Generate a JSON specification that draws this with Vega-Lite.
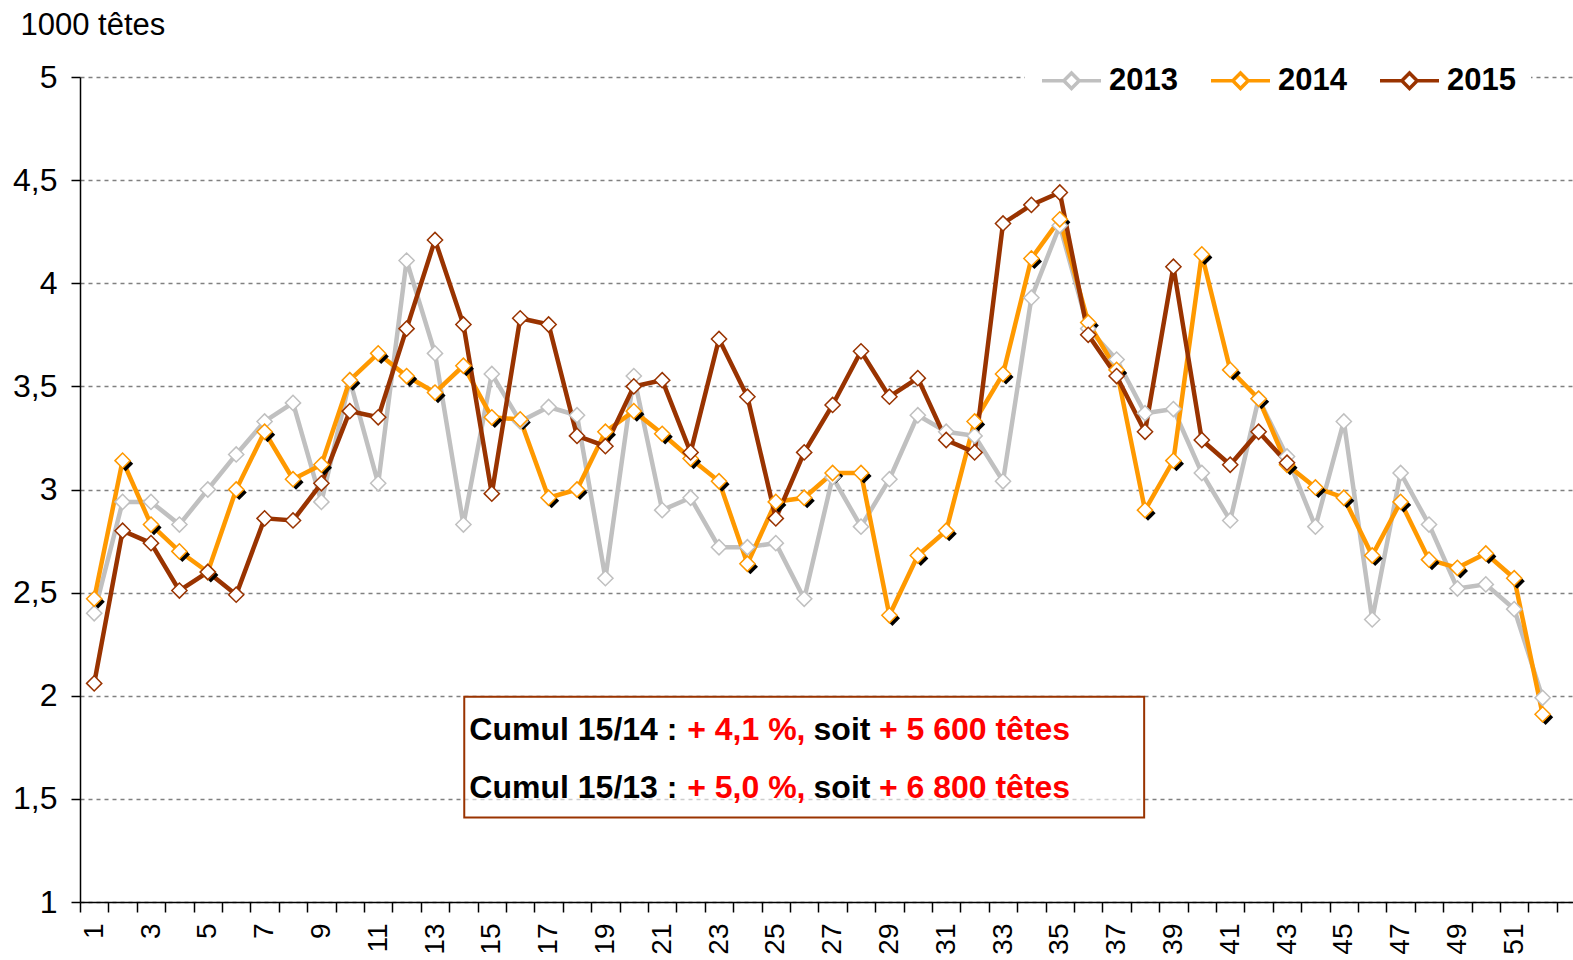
{
"$schema": "https://vega.github.io/schema/vega-lite/v6.json",
"autosize": "none",
"width": 1493,
"height": 825,
"padding": {"left": 80, "top": 77, "right": 0, "bottom": 58},
"background": "white",
"config": {"font": "Liberation Sans", "view": {"stroke": null}},
"datasets": {
"series": [
{"week":1,"year":"2013","value":2.40},{"week":2,"year":"2013","value":2.94},{"week":3,"year":"2013","value":2.94},{"week":4,"year":"2013","value":2.83},{"week":5,"year":"2013","value":3.00},{"week":6,"year":"2013","value":3.17},{"week":7,"year":"2013","value":3.33},{"week":8,"year":"2013","value":3.42},{"week":9,"year":"2013","value":2.94},{"week":10,"year":"2013","value":3.53},
{"week":11,"year":"2013","value":3.03},{"week":12,"year":"2013","value":4.11},{"week":13,"year":"2013","value":3.66},{"week":14,"year":"2013","value":2.83},{"week":15,"year":"2013","value":3.56},{"week":16,"year":"2013","value":3.33},{"week":17,"year":"2013","value":3.40},{"week":18,"year":"2013","value":3.36},{"week":19,"year":"2013","value":2.57},{"week":20,"year":"2013","value":3.55},
{"week":21,"year":"2013","value":2.90},{"week":22,"year":"2013","value":2.96},{"week":23,"year":"2013","value":2.72},{"week":24,"year":"2013","value":2.72},{"week":25,"year":"2013","value":2.74},{"week":26,"year":"2013","value":2.47},{"week":27,"year":"2013","value":3.06},{"week":28,"year":"2013","value":2.82},{"week":29,"year":"2013","value":3.05},{"week":30,"year":"2013","value":3.36},
{"week":31,"year":"2013","value":3.28},{"week":32,"year":"2013","value":3.26},{"week":33,"year":"2013","value":3.04},{"week":34,"year":"2013","value":3.93},{"week":35,"year":"2013","value":4.28},{"week":36,"year":"2013","value":3.78},{"week":37,"year":"2013","value":3.63},{"week":38,"year":"2013","value":3.37},{"week":39,"year":"2013","value":3.39},{"week":40,"year":"2013","value":3.08},
{"week":41,"year":"2013","value":2.85},{"week":42,"year":"2013","value":3.44},{"week":43,"year":"2013","value":3.16},{"week":44,"year":"2013","value":2.82},{"week":45,"year":"2013","value":3.33},{"week":46,"year":"2013","value":2.37},{"week":47,"year":"2013","value":3.08},{"week":48,"year":"2013","value":2.83},{"week":49,"year":"2013","value":2.52},{"week":50,"year":"2013","value":2.54},
{"week":51,"year":"2013","value":2.42},{"week":52,"year":"2013","value":1.99},
{"week":1,"year":"2014","value":2.47},{"week":2,"year":"2014","value":3.14},{"week":3,"year":"2014","value":2.83},{"week":4,"year":"2014","value":2.70},{"week":5,"year":"2014","value":2.60},{"week":6,"year":"2014","value":3.00},{"week":7,"year":"2014","value":3.28},{"week":8,"year":"2014","value":3.05},{"week":9,"year":"2014","value":3.12},{"week":10,"year":"2014","value":3.53},
{"week":11,"year":"2014","value":3.66},{"week":12,"year":"2014","value":3.55},{"week":13,"year":"2014","value":3.47},{"week":14,"year":"2014","value":3.60},{"week":15,"year":"2014","value":3.35},{"week":16,"year":"2014","value":3.34},{"week":17,"year":"2014","value":2.96},{"week":18,"year":"2014","value":3.00},{"week":19,"year":"2014","value":3.28},{"week":20,"year":"2014","value":3.38},
{"week":21,"year":"2014","value":3.27},{"week":22,"year":"2014","value":3.15},{"week":23,"year":"2014","value":3.04},{"week":24,"year":"2014","value":2.64},{"week":25,"year":"2014","value":2.94},{"week":26,"year":"2014","value":2.96},{"week":27,"year":"2014","value":3.08},{"week":28,"year":"2014","value":3.08},{"week":29,"year":"2014","value":2.39},{"week":30,"year":"2014","value":2.68},
{"week":31,"year":"2014","value":2.80},{"week":32,"year":"2014","value":3.33},{"week":33,"year":"2014","value":3.56},{"week":34,"year":"2014","value":4.12},{"week":35,"year":"2014","value":4.31},{"week":36,"year":"2014","value":3.81},{"week":37,"year":"2014","value":3.58},{"week":38,"year":"2014","value":2.90},{"week":39,"year":"2014","value":3.14},{"week":40,"year":"2014","value":4.14},
{"week":41,"year":"2014","value":3.58},{"week":42,"year":"2014","value":3.44},{"week":43,"year":"2014","value":3.12},{"week":44,"year":"2014","value":3.01},{"week":45,"year":"2014","value":2.96},{"week":46,"year":"2014","value":2.68},{"week":47,"year":"2014","value":2.94},{"week":48,"year":"2014","value":2.66},{"week":49,"year":"2014","value":2.62},{"week":50,"year":"2014","value":2.69},
{"week":51,"year":"2014","value":2.57},{"week":52,"year":"2014","value":1.91},
{"week":1,"year":"2015","value":2.06},{"week":2,"year":"2015","value":2.80},{"week":3,"year":"2015","value":2.74},{"week":4,"year":"2015","value":2.51},{"week":5,"year":"2015","value":2.60},{"week":6,"year":"2015","value":2.49},{"week":7,"year":"2015","value":2.86},{"week":8,"year":"2015","value":2.85},{"week":9,"year":"2015","value":3.03},{"week":10,"year":"2015","value":3.38},
{"week":11,"year":"2015","value":3.35},{"week":12,"year":"2015","value":3.78},{"week":13,"year":"2015","value":4.21},{"week":14,"year":"2015","value":3.80},{"week":15,"year":"2015","value":2.98},{"week":16,"year":"2015","value":3.83},{"week":17,"year":"2015","value":3.80},{"week":18,"year":"2015","value":3.26},{"week":19,"year":"2015","value":3.21},{"week":20,"year":"2015","value":3.50},
{"week":21,"year":"2015","value":3.53},{"week":22,"year":"2015","value":3.18},{"week":23,"year":"2015","value":3.73},{"week":24,"year":"2015","value":3.45},{"week":25,"year":"2015","value":2.86},{"week":26,"year":"2015","value":3.18},{"week":27,"year":"2015","value":3.41},{"week":28,"year":"2015","value":3.67},{"week":29,"year":"2015","value":3.45},{"week":30,"year":"2015","value":3.54},
{"week":31,"year":"2015","value":3.24},{"week":32,"year":"2015","value":3.18},{"week":33,"year":"2015","value":4.29},{"week":34,"year":"2015","value":4.38},{"week":35,"year":"2015","value":4.44},{"week":36,"year":"2015","value":3.75},{"week":37,"year":"2015","value":3.55},{"week":38,"year":"2015","value":3.28},{"week":39,"year":"2015","value":4.08},{"week":40,"year":"2015","value":3.24},
{"week":41,"year":"2015","value":3.12},{"week":42,"year":"2015","value":3.28},{"week":43,"year":"2015","value":3.13}
],
"box": [{"x1": 14.03, "x2": 37.97, "y1": 1.995, "y2": 1.41}],
"notes": [
{"x": 14.21, "y": 1.835, "text": "Cumul 15/14 :", "kind": "label"},
{"x": 21.88, "y": 1.835, "text": "+ 4,1 %,", "kind": "value"},
{"x": 26.33, "y": 1.835, "text": "soit", "kind": "label"},
{"x": 28.63, "y": 1.835, "text": "+ 5 600 têtes", "kind": "value"},
{"x": 14.21, "y": 1.554, "text": "Cumul 15/13 :", "kind": "label"},
{"x": 21.88, "y": 1.554, "text": "+ 5,0 %,", "kind": "value"},
{"x": 26.33, "y": 1.554, "text": "soit", "kind": "label"},
{"x": 28.63, "y": 1.554, "text": "+ 6 800 têtes", "kind": "value"}
]
},
"resolve": {"scale": {"x": "independent"}},
"layer": [
{
"data": {"name": "series"},
"encoding": {
"x": {"field": "week", "type": "ordinal",
"scale": {"type": "band", "domain": [1,2,3,4,5,6,7,8,9,10,11,12,13,14,15,16,17,18,19,20,21,22,23,24,25,26,27,28,29,30,31,32,33,34,35,36,37,38,39,40,41,42,43,44,45,46,47,48,49,50,51,52], "paddingInner": 0, "paddingOuter": 0.285, "align": 0},
"axis": {"title": null, "tickBand": "extent", "labelAngle": 270, "labelAlign": "right", "labelBaseline": "middle", "labelFontSize": 28, "labelFont": "Liberation Sans", "labelColor": "black", "labelPadding": 11, "labelOverlap": false, "labelFlush": false, "tickSize": 10, "tickColor": "black", "tickWidth": 1.5, "domainColor": "black", "domainWidth": 1.5, "grid": false,
"labelExpr": "datum.value % 2 == 1 ? datum.label : ''"}},
"y": {"field": "value", "type": "quantitative",
"scale": {"domain": [1, 5], "nice": false, "zero": false},
"axis": {"title": "1000 têtes", "titleAngle": 0, "titleX": -60, "titleY": -52, "titleAlign": "left", "titleBaseline": "middle", "titleFontSize": 31, "titleFontWeight": "normal", "titleFont": "Liberation Sans", "titleColor": "black",
"values": [1, 1.5, 2, 2.5, 3, 3.5, 4, 4.5, 5], "labelExpr": "replace(format(datum.value, '~g'), '.', ',')", "labelFontSize": 32, "labelFont": "Liberation Sans", "labelColor": "black", "labelPadding": 14, "tickSize": 9, "tickColor": "black", "tickWidth": 1.5, "domainColor": "black", "domainWidth": 1.5,
"grid": true, "gridColor": "#808080", "gridDash": [4, 4], "gridWidth": 1.5}},
"color": {"field": "year", "type": "nominal",
"scale": {"domain": ["2013", "2014", "2015"], "range": ["#C0C0C0", "#FF9900", "#993300"]},
"legend": {"title": null, "orient": "none", "legendX": 945, "legendY": -43, "direction": "horizontal", "columns": 3,
"labelFont": "Liberation Sans", "labelFontSize": 31, "labelFontWeight": "bold", "labelColor": "black", "labelOffset": 6, "columnPadding": 26, "padding": 15, "fillColor": "white",
"symbolType": "M-1,0L-0.26,0M0.26,0L1,0M0,-0.26L0.26,0L0,0.26L-0.26,0Z", "symbolSize": 3481, "symbolStrokeWidth": 3.5, "symbolFillColor": "white", "symbolOpacity": 1}}
},
"layer": [
{"mark": {"type": "line", "strokeWidth": 4.5}},
{"transform": [{"filter": "datum.year == '2014'"}],
"mark": {"type": "point", "shape": "diamond", "filled": true, "size": 230, "xOffset": 3, "yOffset": 3, "opacity": 1},
"encoding": {"color": {"value": "black"}}},
{"mark": {"type": "point", "shape": "diamond", "filled": false, "fill": "white", "fillOpacity": 1, "size": 230, "strokeWidth": 1.5, "opacity": 1}}
]
},
{
"data": {"name": "box"},
"mark": {"type": "rect", "fill": "white", "fillOpacity": 0.6, "stroke": "#993300", "strokeWidth": 2},
"encoding": {
"x": {"field": "x1", "type": "quantitative", "scale": {"domain": [0.5, 53.07], "nice": false, "zero": false}, "axis": null},
"x2": {"field": "x2"},
"y": {"field": "y1", "type": "quantitative"},
"y2": {"field": "y2"}
}
},
{
"data": {"name": "notes"},
"transform": [{"filter": "datum.kind == 'label'"}],
"mark": {"type": "text", "align": "left", "baseline": "middle", "font": "Liberation Sans", "fontSize": 32, "fontWeight": "bold", "color": "black"},
"encoding": {
"x": {"field": "x", "type": "quantitative", "scale": {"domain": [0.5, 53.07], "nice": false, "zero": false}, "axis": null},
"y": {"field": "y", "type": "quantitative"},
"text": {"field": "text"}
}
},
{
"data": {"name": "notes"},
"transform": [{"filter": "datum.kind == 'value'"}],
"mark": {"type": "text", "align": "left", "baseline": "middle", "font": "Liberation Sans", "fontSize": 32, "fontWeight": "bold", "color": "#FF0000"},
"encoding": {
"x": {"field": "x", "type": "quantitative", "scale": {"domain": [0.5, 53.07], "nice": false, "zero": false}, "axis": null},
"y": {"field": "y", "type": "quantitative"},
"text": {"field": "text"}
}
}
]
}
